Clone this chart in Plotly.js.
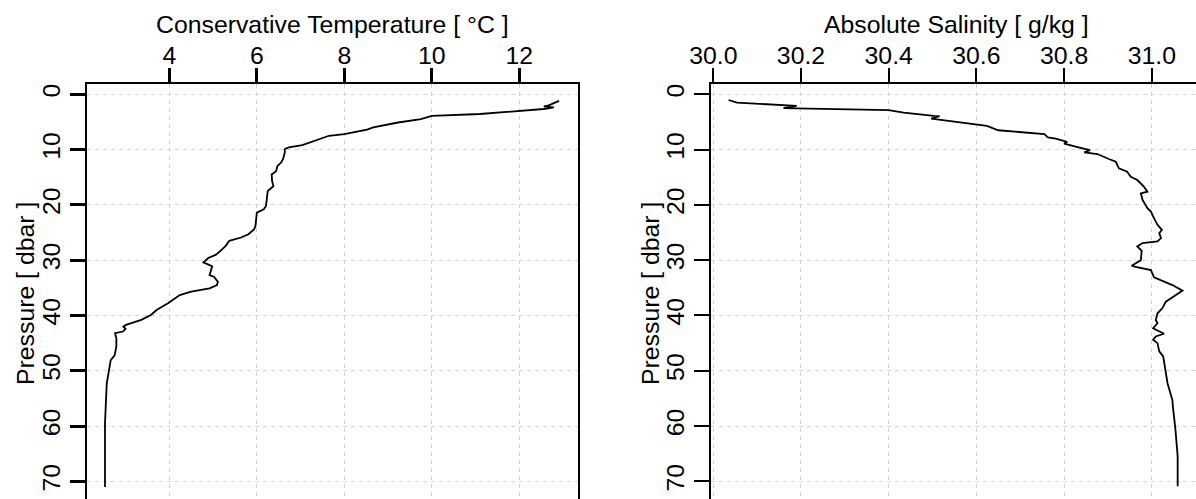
<!DOCTYPE html>
<html>
<head>
<meta charset="utf-8">
<script src="https://cdn.plot.ly/plotly-3.0.1.min.js"></script>
<style>
  html, body { margin: 0; padding: 0; background: #ffffff; overflow: hidden; }
  #chart { width: 1210px; height: 504px; }
</style>
</head>
<body>
<div id="chart"></div>
<script>
// ---- Data ----
const tempPressure = [1.2, 2.06, 2.2, 2.36, 2.66, 3.56, 3.9, 4.5, 5.1, 6.0, 6.4, 7.2, 7.5, 8.4, 9.2, 9.6, 9.9, 10.5, 11.7, 12.3, 13.0, 13.9, 14.5, 15.7, 16.6, 17.5, 19.0, 20.2, 20.8, 21.4, 23.8, 24.4, 25.3, 25.9, 26.5, 27.4, 28.1, 29.0, 29.6, 30.4, 31.1, 32.7, 33.0, 33.9, 34.5, 35.1, 35.7, 36.3, 37.8, 39.0, 39.9, 40.8, 41.7, 42.0, 42.4, 42.9, 43.2, 44.1, 45.6, 47.2, 48.1, 49.9, 52.3, 55.9, 59.5, 64.4, 71.0];
const temperature  = [12.91, 12.66, 12.56, 12.79, 12.56, 11.10, 10.0, 9.75, 9.23, 8.66, 8.52, 8.0, 7.65, 7.30, 7.04, 6.73, 6.64, 6.64, 6.60, 6.56, 6.47, 6.44, 6.34, 6.35, 6.38, 6.25, 6.22, 6.21, 6.16, 6.00, 5.97, 5.94, 5.81, 5.64, 5.37, 5.29, 5.20, 5.07, 4.89, 4.78, 4.98, 4.92, 5.02, 5.11, 5.09, 4.92, 4.50, 4.24, 3.97, 3.71, 3.58, 3.36, 3.01, 2.95, 3.00, 2.94, 2.76, 2.79, 2.79, 2.75, 2.66, 2.62, 2.57, 2.55, 2.53, 2.53, 2.53];

const salPressure = [1.03, 1.5, 2.1, 2.5, 2.85, 3.3, 3.9, 3.95, 4.4, 5.4, 5.7, 6.5, 6.8, 7.2, 7.8, 8.0, 8.6, 8.9, 9.6, 10.1, 10.5, 10.8, 11.7, 12.2, 13.4, 14.0, 14.9, 15.5, 16.7, 17.6, 17.9, 19.1, 20.6, 21.2, 22.4, 23.6, 24.5, 25.1, 26.0, 26.6, 26.9, 27.5, 28.3, 30.0, 31.0, 31.2, 31.8, 33.1, 34.5, 35.5, 36.3, 37.5, 38.7, 39.6, 40.8, 41.4, 42.3, 43.3, 43.8, 44.4, 45.0, 46.5, 47.4, 49.8, 52.3, 55.3, 56.4, 60.7, 65.5, 70.9];
const salinity    = [30.035, 30.054, 30.19, 30.16, 30.40, 30.434, 30.503, 30.516, 30.497, 30.598, 30.624, 30.650, 30.694, 30.755, 30.763, 30.781, 30.807, 30.800, 30.833, 30.859, 30.846, 30.876, 30.902, 30.918, 30.925, 30.944, 30.952, 30.967, 30.982, 30.990, 30.975, 30.979, 30.990, 30.998, 31.005, 31.013, 31.023, 31.017, 31.021, 31.013, 30.979, 30.967, 30.977, 30.975, 30.954, 30.963, 30.998, 31.005, 31.047, 31.070, 31.055, 31.032, 31.024, 31.013, 31.009, 31.013, 31.003, 31.028, 31.009, 31.003, 31.013, 31.017, 31.026, 31.031, 31.036, 31.047, 31.048, 31.054, 31.059, 31.059];

const tempTitle = "Conservative Temperature [ °C ]";
const salTitle = "Absolute Salinity [ g/kg ]";
const presTitle = "Pressure [ dbar ]";

// ---- Layout geometry (pixels) ----
const W = 1210, H = 504;
const px = v => v / W;
const py = v => 1 - v / H;
const FONT = "Liberation Sans, Arial, Helvetica, sans-serif";
const FS = 24.8;

const traces = [
  { x: temperature, y: tempPressure, xaxis: 'x', yaxis: 'y', type: 'scatter', mode: 'lines',
    line: { color: '#000', width: 1.8 } },
  { x: salinity, y: salPressure, xaxis: 'x2', yaxis: 'y2', type: 'scatter', mode: 'lines',
    line: { color: '#000', width: 1.8 } }
];

const base = {
  showline: true, linecolor: '#000000', linewidth: 1.5, mirror: true,
  ticks: 'outside', ticklen: 15, tickcolor: '#000000',
  showgrid: true, gridcolor: '#d3d3d3', gridwidth: 1, griddash: '4px,4px', zeroline: false,
  tickfont: { family: FONT, size: FS, color: '#000000' }
};
const leftAx = Object.assign({}, base, { tickwidth: 3 });
const rightAx = Object.assign({}, base, { tickwidth: 2 });

const yRange = [74.09, -1.808];
const yDomain = [0, py(84.3)];

const layout = {
  width: W, height: H,
  margin: { l: 0, r: 0, t: 0, b: 0, pad: 0 },
  showlegend: false,
  font: { family: FONT, size: FS, color: '#000000' },
  xaxis: Object.assign({}, leftAx, {
    domain: [px(86.7), px(577.7)], range: [2.112, 13.335], side: 'top', anchor: 'y',
    dtick: 2, ticklabelstandoff: -6
  }),
  yaxis: Object.assign({}, leftAx, {
    domain: yDomain, range: yRange, anchor: 'x', dtick: 10, tickangle: -90
  }),
  xaxis2: Object.assign({}, rightAx, {
    domain: [px(711), px(1202)], range: [29.9948, 31.1145], side: 'top', anchor: 'y2',
    dtick: 0.2, tickformat: '.1f', ticklabelstandoff: -6
  }),
  yaxis2: Object.assign({}, rightAx, {
    domain: yDomain, range: yRange, anchor: 'x2', dtick: 10, tickangle: -90
  }),
  annotations: [
    { text: tempTitle, xref: 'paper', yref: 'paper', x: px(332.2), y: py(24.5),
      xanchor: 'center', yanchor: 'middle', showarrow: false, font: { family: FONT, size: FS, color: '#000' } },
    { text: salTitle, xref: 'paper', yref: 'paper', x: px(956.5), y: py(24.5),
      xanchor: 'center', yanchor: 'middle', showarrow: false, font: { family: FONT, size: FS, color: '#000' } },
    { text: presTitle, xref: 'paper', yref: 'paper', x: px(25), y: py(294),
      xanchor: 'center', yanchor: 'middle', textangle: -90, showarrow: false, font: { family: FONT, size: FS, color: '#000' } },
    { text: presTitle, xref: 'paper', yref: 'paper', x: px(650), y: py(294),
      xanchor: 'center', yanchor: 'middle', textangle: -90, showarrow: false, font: { family: FONT, size: FS, color: '#000' } }
  ]
};

Plotly.newPlot('chart', traces, layout, { displayModeBar: false });
</script>
</body>
</html>
